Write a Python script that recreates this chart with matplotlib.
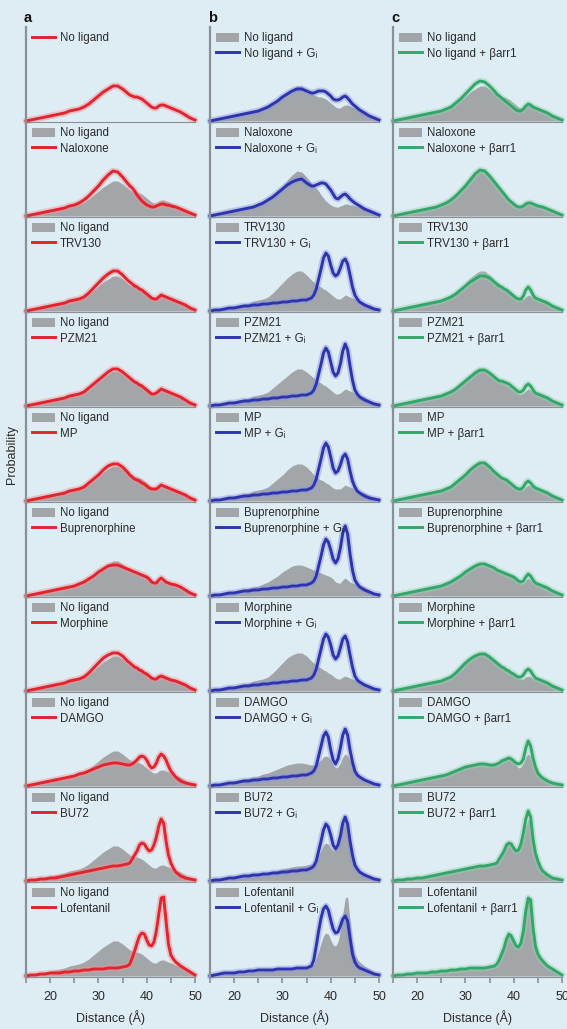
import numpy as np
import matplotlib.pyplot as plt
from matplotlib.patches import Patch
from matplotlib.lines import Line2D

# distance grid (Å), finer around the 36-46 Å peaks
distance = np.concatenate([np.arange(15, 37), np.arange(36.5, 46.5, 0.5), np.arange(47, 51)])

ligands = ['No ligand', 'Naloxone', 'TRV130', 'PZM21', 'MP', 'Buprenorphine',
           'Morphine', 'DAMGO', 'BU72', 'Lofentanil']

# probability (x1e-3), receptor with ligand only
apo = [0, 1, 2, 3, 4, 5, 6, 7, 8, 10, 11, 12, 14, 17, 21, 25, 29, 32, 35, 35, 32, 28,
       26, 25, 24, 24, 23, 22, 20, 18, 16, 14, 13, 13, 15, 16, 16, 15, 14, 13, 12, 11,
       9, 6, 3, 1]
naloxone = [0, 1, 2, 3, 4, 5, 6, 7, 8, 10, 11, 13, 16, 20, 25, 30, 36, 41, 45, 44, 39, 33,
            30, 28, 25, 21, 18, 15, 13, 11, 10, 9, 9, 10, 11, 12, 12, 11, 11, 10, 9.5, 9,
            7, 5, 3, 1]
trv130 = [0, 1, 2, 3, 4, 5, 6, 7, 8, 10, 11, 12, 14, 18, 23, 28, 33, 37, 40, 40, 36, 31,
          29, 27, 25, 24, 22, 21, 19, 17, 15, 13, 12, 12, 14, 16, 15, 14, 13, 12, 11, 10,
          8, 6, 3, 1]
pzm21 = [0, 1, 2, 3, 4, 5, 6, 7, 8, 10, 11, 12, 14, 18, 22, 26, 30, 34, 37, 37, 34, 30,
         28, 26, 24, 23, 21, 20, 18, 16, 14, 12, 12, 13, 15, 17, 16, 15, 14, 13, 12, 11,
         9, 6, 3, 1]
mp = [0, 1, 2, 3, 4, 5, 6, 7, 8, 10, 11, 12, 14, 18, 22, 26, 31, 35, 37, 37, 34, 29,
      26, 24, 22, 21, 20, 18, 17, 15, 13, 12, 12, 12, 14, 16, 15, 14, 13, 12, 11, 10,
      8, 6, 3, 1]
buprenorphine = [0, 1, 2, 3, 4, 5, 6, 7, 8, 9, 10, 12, 14, 17, 20, 24, 27, 30, 31, 31, 29, 27,
                 26, 25, 24, 23, 22, 21, 20, 19, 17, 14, 13, 13, 16, 18, 16, 14, 13, 12, 11.5, 11,
                 9, 6, 3, 1]
morphine = [0, 1, 2, 3, 4, 5, 6, 7, 8, 10, 11, 12, 14, 18, 23, 28, 33, 36, 38, 38, 35, 30,
            28, 26, 24, 23, 21, 20, 18, 17, 15, 13, 12, 12, 14, 15, 14, 13, 12, 11, 10.5, 10,
            8, 6, 3, 1]
damgo = [0, 1, 2, 3, 4, 5, 6, 7, 8, 9, 10, 12, 13, 15, 17, 19, 21, 22, 23, 23, 22, 21,
         21, 22, 24, 26, 29, 30, 29, 26, 21, 18, 19, 23, 29, 32, 30, 26, 20, 15, 12, 9,
         5, 3, 2, 1]
bu72 = [0, 1, 1, 2, 2, 3, 3, 4, 5, 6, 7, 8, 9, 10, 11, 12, 13, 14, 15, 15, 16, 17,
        18, 22, 26, 30, 36, 38, 37, 33, 30, 31, 36, 44, 55, 62, 58, 40, 26, 18, 13, 9,
        5, 3, 2, 1]
lofentanil = [0, 1, 1, 2, 2, 3, 3, 3, 4, 4, 5, 5, 6, 6, 7, 7, 7, 8, 8, 8, 9, 10,
              12, 18, 25, 33, 40, 43, 42, 36, 31, 30, 34, 45, 62, 78, 79, 55, 32, 21, 17, 14,
              10, 7, 4, 1]

# ligand + Gi
apo_gi = [0, 1, 2, 3, 4, 5, 6, 7, 8, 9, 10, 12, 14, 17, 20, 24, 27, 30, 32, 32, 30, 28,
          28, 29, 30, 30, 30, 29, 27, 25, 22, 21, 21, 22, 24, 25, 23, 20, 17, 15, 13, 11,
          8, 5, 3, 1]
naloxone_gi = [0, 1, 2, 3, 4, 5, 6, 7, 8, 9, 11, 13, 16, 19, 23, 27, 31, 34, 36, 37, 33, 30,
               30, 31, 32, 33, 33, 32, 29, 26, 22, 18, 17, 19, 21, 22, 20, 17, 15, 13, 11.5, 10,
               7, 5, 3, 1]
trv130_gi = [0, 1, 1, 2, 3, 3, 4, 5, 5, 6, 6, 7, 7, 8, 8, 9, 9, 10, 10, 11, 11, 13,
             16, 22, 32, 42, 53, 58, 55, 46, 38, 35, 37, 43, 50, 52, 47, 36, 24, 16, 12, 9,
             6, 4, 2, 1]
pzm21_gi = [0, 1, 1, 2, 3, 3, 4, 5, 5, 6, 6, 7, 7, 8, 8, 9, 9, 10, 10, 11, 11, 13,
            16, 22, 32, 42, 53, 58, 54, 44, 34, 30, 33, 42, 55, 62, 56, 40, 26, 16, 12, 9,
            6, 4, 2, 1]
mp_gi = [0, 1, 1, 2, 3, 3, 4, 5, 5, 6, 6, 7, 7, 8, 8, 9, 9, 10, 10, 11, 11, 13,
         16, 22, 32, 42, 53, 58, 54, 44, 33, 28, 30, 36, 44, 47, 42, 30, 20, 14, 10, 8,
         5, 3, 2, 1]
buprenorphine_gi = [0, 1, 1, 2, 3, 3, 4, 5, 5, 6, 6, 7, 7, 8, 8, 9, 9, 10, 10, 11, 11, 13,
                    15, 20, 30, 40, 51, 57, 54, 46, 37, 33, 37, 48, 63, 70, 62, 42, 26, 16, 12, 9,
                    6, 4, 2, 1]
morphine_gi = [0, 1, 1, 2, 3, 3, 4, 5, 5, 6, 6, 7, 7, 8, 8, 9, 9, 10, 10, 11, 11, 13,
               16, 22, 32, 42, 52, 57, 54, 46, 36, 32, 35, 43, 52, 55, 49, 36, 24, 15, 11, 9,
               6, 4, 2, 1]
damgo_gi = [0, 1, 1, 2, 3, 3, 4, 5, 5, 6, 6, 7, 7, 8, 8, 9, 9, 10, 10, 11, 11, 13,
            15, 20, 30, 40, 50, 54, 49, 36, 26, 22, 27, 38, 51, 57, 51, 36, 24, 15, 11, 9,
            6, 4, 2, 1]
bu72_gi = [0, 1, 1, 2, 3, 3, 4, 5, 5, 6, 6, 7, 7, 8, 8, 9, 9, 10, 10, 11, 11, 13,
           15, 20, 30, 40, 51, 57, 54, 46, 36, 32, 36, 45, 58, 64, 57, 40, 26, 16, 12, 9,
           6, 4, 2, 1]
lofentanil_gi = [0, 1, 2, 3, 3, 3, 4, 4, 5, 5, 6, 6, 6, 6, 7, 7, 7, 7, 8, 8, 8, 10,
                 16, 30, 45, 58, 67, 70, 66, 56, 47, 43, 44, 50, 57, 60, 55, 38, 22, 14, 10, 8,
                 6, 4, 2, 1]

# ligand + barr1
apo_arr = [0, 1, 2, 3, 4, 5, 6, 7, 8, 9, 10, 12, 14, 18, 22, 27, 32, 37, 40, 39, 35, 30,
           27, 25, 23, 21, 19, 17, 15, 13, 11, 10, 10, 12, 15, 17, 16, 14, 13, 12, 11, 10,
           8, 5, 3, 1]
naloxone_arr = [0, 1, 2, 3, 4, 5, 6, 7, 8, 9, 11, 13, 16, 20, 25, 30, 36, 42, 46, 45, 40, 34,
                31, 28, 25, 22, 19, 16, 14, 12, 10, 9, 9, 10, 12, 13, 13, 12, 11, 10, 9.5, 9,
                7, 5, 3, 1]
trv130_arr = [0, 1, 2, 3, 4, 5, 6, 7, 8, 9, 10, 12, 14, 17, 21, 25, 29, 32, 35, 35, 33, 29,
              27, 25, 24, 22, 21, 19, 17, 15, 13, 12, 12, 15, 21, 24, 21, 16, 13, 12, 11, 10,
              8, 5, 3, 1]
pzm21_arr = [0, 1, 2, 3, 4, 5, 6, 7, 8, 9, 10, 12, 14, 17, 21, 25, 29, 33, 36, 36, 33, 29,
             27, 25, 25, 24, 23, 22, 20, 18, 16, 14, 14, 16, 20, 22, 20, 16, 13, 12, 11, 10,
             8, 5, 3, 1]
mp_arr = [0, 1, 2, 3, 4, 5, 6, 7, 8, 9, 10, 12, 14, 18, 22, 26, 31, 35, 38, 38, 34, 29,
          27, 25, 23, 22, 21, 19, 17, 15, 13, 12, 12, 14, 18, 20, 18, 15, 13, 12, 11, 10,
          8, 5, 3, 1]
buprenorphine_arr = [0, 1, 2, 3, 4, 5, 6, 7, 8, 9, 10, 12, 14, 17, 20, 24, 27, 30, 32, 32, 30, 28,
                     26, 25, 24, 23, 22, 21, 20, 19, 17, 15, 14, 15, 19, 22, 20, 16, 13, 12, 11, 10,
                     8, 5, 3, 1]
morphine_arr = [0, 1, 2, 3, 4, 5, 6, 7, 8, 9, 10, 12, 14, 18, 23, 28, 32, 35, 37, 37, 34, 30,
                28, 26, 24, 23, 21, 20, 18, 17, 15, 14, 14, 16, 20, 22, 20, 16, 13, 12, 11, 10,
                8, 5, 3, 1]
damgo_arr = [0, 1, 2, 3, 4, 5, 6, 7, 8, 9, 10, 11, 13, 15, 17, 19, 20, 21, 22, 22, 21, 21,
             22, 23, 25, 26, 27, 28, 27, 25, 23, 22, 23, 27, 38, 45, 40, 28, 19, 13, 10, 8,
             5, 3, 2, 1]
bu72_arr = [0, 1, 1, 2, 2, 3, 3, 4, 5, 6, 7, 8, 9, 10, 11, 12, 13, 14, 15, 15, 16, 17,
            18, 22, 26, 30, 36, 38, 37, 33, 30, 31, 37, 48, 62, 70, 64, 42, 28, 20, 14, 10,
            6, 3, 2, 1]
lofentanil_arr = [0, 1, 1, 2, 2, 3, 3, 3, 4, 4, 5, 5, 6, 6, 7, 7, 8, 8, 8, 8, 9, 10,
                  12, 16, 22, 28, 37, 42, 40, 35, 30, 29, 33, 45, 65, 78, 76, 48, 30, 22, 18, 15,
                  10, 7, 4, 1]

alone = [apo, naloxone, trv130, pzm21, mp, buprenorphine, morphine, damgo, bu72, lofentanil]
with_gi = [apo_gi, naloxone_gi, trv130_gi, pzm21_gi, mp_gi, buprenorphine_gi,
           morphine_gi, damgo_gi, bu72_gi, lofentanil_gi]
with_arr = [apo_arr, naloxone_arr, trv130_arr, pzm21_arr, mp_arr, buprenorphine_arr,
            morphine_arr, damgo_arr, bu72_arr, lofentanil_arr]

BG = '#deecf3'
GREY = '#a2a6a9'
SPINE = '#8b9094'
TXT = '#2a2a2a'
RED = ('#e2242f', '#f19197')
BLUE = ('#2c34ae', '#9096df')
GREEN = ('#33a66a', '#93d3b0')
FS = 8.3


def draw_line(ax, y, colors):
    # faint band under the line, then the line itself
    ax.plot(distance, y, color=colors[1], lw=4.8, alpha=0.45, solid_capstyle='round',
            solid_joinstyle='round', clip_on=False)
    ax.plot(distance, y, color=colors[0], lw=2.1, solid_joinstyle='round', clip_on=False)


def style_axes(ax, bottom):
    ax.set_facecolor('none')
    ax.set_xlim(15, 50)
    ax.set_ylim(-1, 94)
    for s in ['top', 'right']:
        ax.spines[s].set_visible(False)
    ax.spines['left'].set_color(SPINE)
    ax.spines['left'].set_linewidth(1.6)
    ax.spines['bottom'].set_color(SPINE)
    ax.spines['bottom'].set_linewidth(0.8)
    ax.set_yticks([])
    ax.set_xticks(np.arange(15, 51, 5))
    if bottom:
        ax.set_xticklabels(['' if t % 10 else str(t) for t in range(15, 51, 5)])
        ax.tick_params(axis='x', length=4, width=1.2, color=SPINE, labelsize=9,
                       labelcolor=TXT, pad=6)
        ax.set_xlabel('Distance (Å)', fontsize=9, color=TXT, labelpad=5)
    else:
        ax.tick_params(axis='x', length=0, labelbottom=False)


def add_legend(ax, handles, labels):
    ax.legend(handles, labels, loc='upper left', bbox_to_anchor=(0.035, 0.945),
              frameon=False, fontsize=FS, borderpad=0, borderaxespad=0,
              handlelength=2.0, handleheight=0.85, handletextpad=0.45,
              labelspacing=0.3, labelcolor=TXT)


def graph():
    plt.rcParams['font.family'] = ['Liberation Sans', 'DejaVu Sans']

    fig = plt.figure(figsize=(5.67, 10.29), dpi=100, facecolor=BG)

    lefts = [26 / 567, 210 / 567, 393 / 567]
    width = 169 / 567
    height = 95 / 1029
    cols = [(RED, None), (BLUE, 'G\u1d62'), (GREEN, 'βarr1')]

    for c, (colors, partner) in enumerate(cols):
        for r, name in enumerate(ligands):
            bottom = 1 - (977 - (9 - r) * 95) / 1029
            ax = fig.add_axes([lefts[c], bottom, width, height])
            style_axes(ax, r == 9)

            if c == 0:
                top_curve = alone[r]
                if r > 0:
                    fill_curve, fill_name = apo, 'No ligand'
                else:
                    fill_curve, fill_name = None, None
                line_name = name
            else:
                top_curve = with_gi[r] if c == 1 else with_arr[r]
                fill_curve, fill_name = alone[r], name
                line_name = name + ' + ' + partner

            handles, labels = [], []
            if fill_curve is not None:
                ax.fill_between(distance, 0, fill_curve, color=GREY, lw=0)
                handles.append(Patch(facecolor=GREY, edgecolor='none'))
                labels.append(fill_name)
            draw_line(ax, top_curve, colors)
            handles.append(Line2D([], [], color=colors[0], lw=2.1))
            labels.append(line_name)
            add_legend(ax, handles, labels)

    for x, lab in zip([24, 208, 391], ['a', 'b', 'c']):
        fig.text(x / 567, 1 - 18 / 1029, lab, fontsize=10.5, fontweight='bold',
                 color='#111111', va='center')

    fig.text(12 / 567, 1 - 455 / 1029, 'Probability', rotation=90, fontsize=9,
             color=TXT, va='center', ha='center')

    plt.savefig('out.png', dpi=100, facecolor=BG)


if __name__ == '__main__':
    graph()
